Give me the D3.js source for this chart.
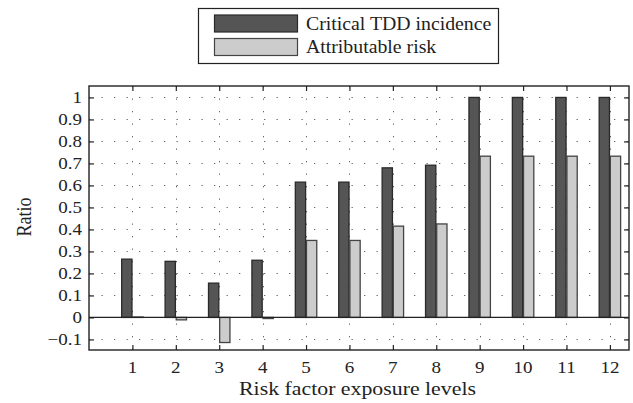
<!DOCTYPE html>
<html>
<head>
<meta charset="utf-8">
<script src="https://cdn.jsdelivr.net/npm/d3@7"></script>
<style>
  html, body { margin: 0; padding: 0; background: #fff; }
  svg { display: block; }
</style>
</head>
<body>
<svg id="chart" width="633" height="403"></svg>
<script>
const levels = [1, 2, 3, 4, 5, 6, 7, 8, 9, 10, 11, 12];
const criticalIncidence = [0.265, 0.255, 0.156, 0.26, 0.615, 0.615, 0.68, 0.692, 1.0, 1.0, 1.0, 1.0];
const attributableRisk = [0.002, -0.011, -0.114, -0.005, 0.35, 0.35, 0.415, 0.425, 0.733, 0.733, 0.733, 0.733];
const yTicks = [-0.1, 0, 0.1, 0.2, 0.3, 0.4, 0.5, 0.6, 0.7, 0.8, 0.9, 1];
const seriesNames = ["Critical TDD incidence", "Attributable risk"];
const seriesColors = ["#555555", "#cccccc"];
const seriesStroke = ["#2a2a2a", "#444444"];

const SX = 1.12; // horizontal stretch of the text in the reference
const FF = "Liberation Serif, Times New Roman, DejaVu Serif, serif";

const svg = d3.select("#chart");
const L = 89, R = 629, T = 86, B = 350;

const x = d3.scaleLinear().domain([0, 12.44]).range([L, R]);
const y = d3.scaleLinear().domain([-0.148, 1.052]).range([B, T]);

const bw = x(0.237) - x(0);
const gap = x(0.02) - x(0);

function stext(parent, px, py, str, size, anchor, sx) {
  return parent.append("text")
    .attr("transform", `translate(${px},${py}) scale(${sx || SX},1)`)
    .attr("text-anchor", anchor || "start")
    .attr("font-family", FF)
    .attr("font-size", size)
    .attr("fill", "#222")
    .text(str);
}

// grid
const g = svg.append("g");
g.selectAll(".hg").data(yTicks).join("line")
  .attr("x1", L).attr("x2", R)
  .attr("y1", d => Math.round(y(d)) + 0.5).attr("y2", d => Math.round(y(d)) + 0.5)
  .attr("stroke", "#666").attr("stroke-width", 1).attr("stroke-dasharray", "1.3,11.2");
g.selectAll(".vg").data(levels).join("line")
  .attr("y1", T).attr("y2", B)
  .attr("x1", d => Math.round(x(d)) + 0.5).attr("x2", d => Math.round(x(d)) + 0.5)
  .attr("stroke", "#666").attr("stroke-width", 1).attr("stroke-dasharray", "1.3,11.2");

// bars
const series = [criticalIncidence, attributableRisk];
series.forEach((vals, si) => {
  svg.append("g").selectAll("rect").data(levels).join("rect")
    .attr("x", d => si === 0 ? x(d) - gap / 2 - bw : x(d) + gap / 2)
    .attr("width", bw)
    .attr("y", (d, i) => Math.min(y(vals[i]), y(0)))
    .attr("height", (d, i) => Math.abs(y(vals[i]) - y(0)))
    .attr("fill", seriesColors[si])
    .attr("stroke", seriesStroke[si])
    .attr("stroke-width", 1.3);
});

// baseline
svg.append("line").attr("x1", L).attr("x2", R)
  .attr("y1", y(0)).attr("y2", y(0))
  .attr("stroke", "#222").attr("stroke-width", 1.2);

// axes with inward ticks
const axB = d3.axisBottom(x).tickValues(levels).tickSize(-5).tickFormat("");
const axT = d3.axisTop(x).tickValues(levels).tickSize(-5).tickFormat("");
const axL = d3.axisLeft(y).tickValues(yTicks).tickSize(-5).tickFormat("");
const axR = d3.axisRight(y).tickValues(yTicks).tickSize(-5).tickFormat("");

function style(sel) {
  sel.selectAll("path").remove();
  sel.selectAll("line").attr("stroke", "#222").attr("stroke-width", 1.2);
}
svg.append("g").attr("transform", `translate(0,${B})`).call(axB).call(style);
svg.append("g").attr("transform", `translate(0,${T})`).call(axT).call(style);
svg.append("g").attr("transform", `translate(${L},0)`).call(axL).call(style);
svg.append("g").attr("transform", `translate(${R},0)`).call(axR).call(style);
svg.append("rect").attr("x", L).attr("y", T).attr("width", R - L).attr("height", B - T)
  .attr("fill", "none").attr("stroke", "#222").attr("stroke-width", 1.4);

// tick labels (drawn from the scales)
const tl = svg.append("g");
levels.forEach(d => stext(tl, x(d), 373, String(d), 17, "middle"));
const yfmt = d => d === 0 ? "0" : (d < 0 ? "\u2212" + (-d).toFixed(1) : (d === 1 ? "1" : d.toFixed(1)));
yTicks.forEach(d => stext(tl, 82, y(d) + 6, yfmt(d), 17, "end"));

// axis titles
stext(svg, 357.5, 395, "Risk factor exposure levels", 18.5, "middle", 1.18);
svg.append("text").attr("transform", `translate(31,217) rotate(-90) scale(1,${SX})`).attr("text-anchor", "middle")
  .attr("font-family", FF).attr("font-size", 18).attr("fill", "#222").text("Ratio");

// legend
const lg = svg.append("g");
lg.append("rect").attr("x", 198.5).attr("y", 8.5).attr("width", 300).attr("height", 55)
  .attr("fill", "#fff").attr("stroke", "#222").attr("stroke-width", 1.2);
seriesNames.forEach((name, i) => {
  const yy = 15 + i * 23.5;
  lg.append("rect").attr("x", 214.5).attr("y", yy).attr("width", 83).attr("height", 17)
    .attr("fill", seriesColors[i]).attr("stroke", seriesStroke[i]).attr("stroke-width", 1.2);
  stext(lg, 306, yy + 14.5, name, 18, "start", 1.1);
});
</script>
</body>
</html>
